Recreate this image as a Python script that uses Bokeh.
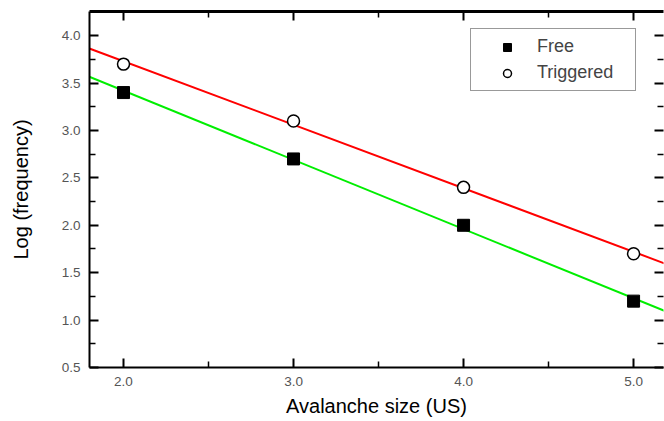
import numpy as np
from bokeh.plotting import figure
from bokeh.models import LinearAxis, Legend, LegendItem, FixedTicker
from bokeh.embed import file_html
from bokeh.resources import INLINE

sizes = [2.0, 3.0, 4.0, 5.0]
free = [3.4, 2.7, 2.0, 1.2]
triggered = [3.7, 3.1, 2.4, 1.7]
x_ticks = [2.0, 3.0, 4.0, 5.0]
y_ticks = [0.5, 1.0, 1.5, 2.0, 2.5, 3.0, 3.5, 4.0]

X0, X1 = 1.8, 5.176
Y0, Y1 = 0.5, 4.255

p = figure(width=664, height=421, output_backend="svg", toolbar_location=None,
           x_range=(X0, X1), y_range=(Y0, Y1),
           min_border_left=89, min_border_right=1, min_border_top=11, min_border_bottom=54)
p.outline_line_color = None
p.xgrid.visible = False
p.ygrid.visible = False
p.background_fill_color = "white"

FONT = "Liberation Sans"

def style(ax, major, minor, labels=True):
    ax.ticker = FixedTicker(ticks=major, minor_ticks=minor)
    ax.axis_line_color = "black"
    ax.axis_line_width = 2
    ax.major_tick_in = 9
    ax.major_tick_out = 0
    ax.minor_tick_in = 6
    ax.minor_tick_out = 0
    ax.major_tick_line_width = 2
    ax.minor_tick_line_width = 1.5
    ax.major_tick_line_color = "black"
    ax.minor_tick_line_color = "black"
    ax.major_label_text_font = FONT
    ax.major_label_text_font_size = "13.5px"
    ax.major_label_text_color = "#555555"
    ax.axis_label_text_font = FONT
    ax.axis_label_text_font_style = "normal"
    ax.axis_label_text_font_size = "20px"
    ax.axis_label_text_color = "black"
    if labels:
        ax.major_label_overrides = {t: f"{t:.1f}" for t in major}
    else:
        ax.major_label_overrides = {t: "" for t in major}

x_minor = [2.5, 3.5, 4.5]
y_minor = [0.75, 1.25, 1.75, 2.25, 2.75, 3.25, 3.75]

style(p.xaxis[0], x_ticks, x_minor)
p.xaxis[0].axis_label = "Avalanche size (US)"
p.xaxis[0].major_label_standoff = 9
p.xaxis[0].axis_label_standoff = 6

style(p.yaxis[0], y_ticks, y_minor)
p.yaxis[0].axis_label = "Log (frequency)"
p.yaxis[0].major_label_standoff = 9
p.yaxis[0].axis_label_standoff = 27

top = LinearAxis()
style(top, x_ticks, x_minor, labels=False)
top.axis_line_width = 3
top.major_label_standoff = 0
p.add_layout(top, "above")

right = LinearAxis()
style(right, y_ticks, y_minor, labels=False)
right.axis_line_color = None
right.major_label_standoff = 0
p.add_layout(right, "right")

# regression lines
xs_line = [X0 - 0.1, X1 + 0.1]
tf = np.polyfit(sizes, triggered, 1)
ff = np.polyfit(sizes, free, 1)
p.line(xs_line, list(np.polyval(tf, xs_line)), line_color="#ff0000", line_width=2)
p.line(xs_line, list(np.polyval(ff, xs_line)), line_color="#00ee00", line_width=2)

r_free = p.scatter(sizes, free, marker="square", size=12, fill_color="black", line_color="black")
r_trig = p.scatter(sizes, triggered, marker="circle", size=12, fill_color="white",
                   line_color="black", line_width=1.5)

legend = Legend(items=[LegendItem(label="Free", renderers=[r_free]),
                       LegendItem(label="Triggered", renderers=[r_trig])],
                location=(381, 276))
legend.padding = 7
legend.spacing = 5
legend.margin = 0
legend.glyph_width = 58
legend.glyph_height = 20
legend.label_height = 20
legend.label_width = 91
legend.label_standoff = 1
legend.label_text_font = FONT
legend.label_text_font_size = "18px"
legend.border_line_color = "#333333"
legend.border_line_width = 1
legend.background_fill_color = "white"
legend.background_fill_alpha = 1
p.add_layout(legend, "center")

open("out.html", "w").write(file_html(p, INLINE))
